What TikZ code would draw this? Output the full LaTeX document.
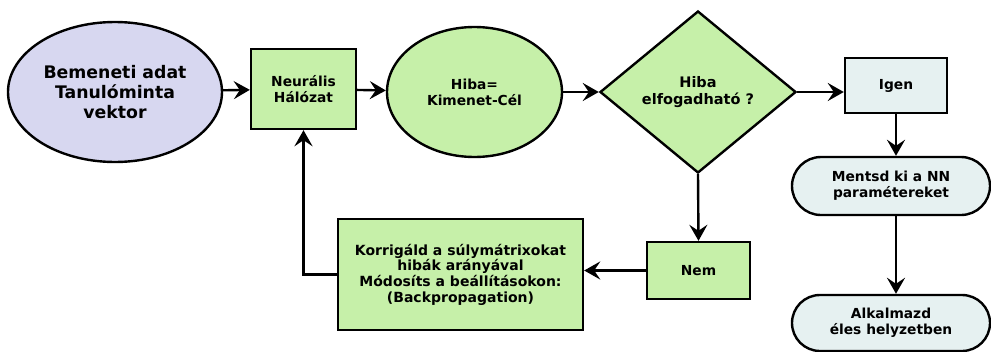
\documentclass[tikz,border=0pt]{standalone}
\usepackage{fontspec}
\setmainfont{DejaVu Sans}
\usepackage{tikz}
\usetikzlibrary{arrows.meta, shapes.geometric, shapes.misc}

\definecolor{lavender}{HTML}{D7D7F0}
\definecolor{leafgreen}{HTML}{C6F0A9}
\definecolor{paleblue}{HTML}{E6F1F1}

\begin{document}
\begin{tikzpicture}[x=1pt, y=1pt, line width=2.4pt,
        every node/.style={draw, align=center, inner sep=0pt, font=\bfseries\fontsize{13.8}{16}\selectfont},
        box/.style={rectangle, fill=leafgreen},
        flow/.style={-{Stealth[length=16pt, width=18pt, inset=6pt]}}]
        \useasboundingbox (0,0) rectangle (991,-351);

        % Top row
        \node (input) [ellipse, fill=lavender, minimum width=214, minimum height=140,
              font=\bfseries\fontsize{17.3}{20}\selectfont] at (115,-92) {Bemeneti adat\\Tanulóminta\\vektor};
        \node (net) [box, minimum width=105, minimum height=80,
              font=\bfseries\fontsize{13.8}{16.7}\selectfont] at (303.5,-89) {Neurális\\Hálózat};
        \node (error) [ellipse, fill=leafgreen, minimum width=175, minimum height=130] at (474.5,-92) {Hiba=\\Kimenet-Cél};
        \node (check) [diamond, fill=leafgreen, minimum width=196, minimum height=162,
              font=\bfseries\fontsize{14.5}{17}\selectfont] at (698,-92) {Hiba\\elfogadható ?};

        % Right column
        \node (yes) [rectangle, fill=paleblue, minimum width=102, minimum height=55] at (896,-85.5) {Igen};
        \node (save) [rounded rectangle, fill=paleblue, minimum width=198, minimum height=58] at (891,-186) {Mentsd ki a NN\\paramétereket};
        \node (apply) [rounded rectangle, fill=paleblue, minimum width=198, minimum height=56] at (891,-323) {Alkalmazd\\éles helyzetben};

        % Bottom row
        \node (no) [box, minimum width=103, minimum height=57] at (698.5,-270.5) {Nem};
        \node (fix) [box, minimum width=245, minimum height=111,
              font=\bfseries\fontsize{14}{15.7}\selectfont] at (460.5,-274.5) {Korrigáld a súlymátrixokat\\hibák arányával\\Módosíts a beállításokon:\\(Backpropagation)};

        % Connections
        \draw[flow] (input) -- (net);
        \draw[flow] (net) -- (error);
        \draw[flow] (error) -- (check);
        \draw[flow] (check.east) -- (yes.west |- check.east);
        \draw[flow] (yes.south) -- (yes.south |- save.north);
        \draw[flow] (yes.south |- save.south) -- (yes.south |- apply.north);
        \draw[flow] (check.south) -- (no.north);
        \draw[flow] (no.west) -- (fix.east |- no.west);
        \draw[flow] (fix.west) -| (net.south);
    \end{tikzpicture}
\end{document}
